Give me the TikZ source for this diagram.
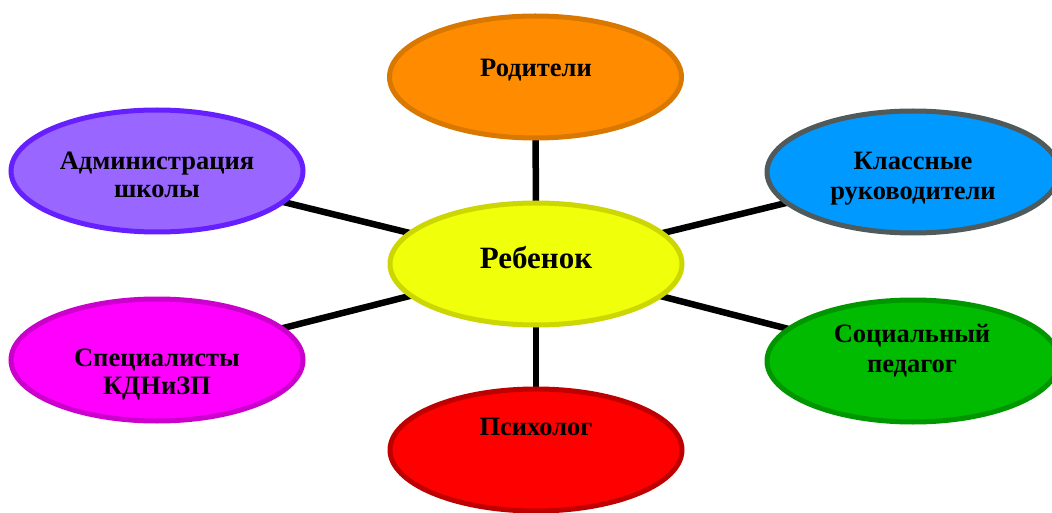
\documentclass[tikz,border=0pt]{standalone}
\usepackage{fontspec}
\setmainfont{Liberation Serif}
\usetikzlibrary{shapes.geometric,backgrounds}
\definecolor{orfill}{HTML}{FF8C00}\definecolor{ordraw}{HTML}{D97800}
\definecolor{pufill}{HTML}{9966FF}\definecolor{pudraw}{HTML}{661FFF}
\definecolor{blfill}{HTML}{0099FF}\definecolor{bldraw}{HTML}{505A5A}
\definecolor{yefill}{HTML}{F0FF0A}\definecolor{yedraw}{HTML}{CCD600}
\definecolor{mafill}{HTML}{FF00FF}\definecolor{madraw}{HTML}{CC00CC}
\definecolor{grfill}{HTML}{00BB00}\definecolor{grdraw}{HTML}{009600}
\definecolor{refill}{HTML}{FF0000}\definecolor{redraw}{HTML}{BF0000}
\tikzset{
  blob/.style={ellipse, line width=5pt, minimum width=292pt, minimum height=122pt, inner sep=0pt},
  lbl/.style={font=\bfseries\fontsize{26.5}{30}\selectfont, align=center, inner sep=0pt},
  link/.style={line width=6.5pt, black}
}
\begin{document}
\begin{tikzpicture}[x=1pt,y=-1pt]
\useasboundingbox (0,0) rectangle (1052,513);
\clip (0,0) rectangle (1052,513);
\node[blob, fill=orfill, draw=ordraw] (par) at (535.5,77) {};
\node[blob, fill=pufill, draw=pudraw] (adm) at (157,171) {};
\node[blob, fill=blfill, draw=bldraw] (cls) at (913,172) {};
\node[blob, fill=yefill, draw=yedraw] (chi) at (536,264) {};
\node[blob, fill=mafill, draw=madraw] (spe) at (157,360) {};
\node[blob, fill=grfill, draw=grdraw] (soc) at (913,361) {};
\node[blob, fill=refill, draw=redraw] (psy) at (536,450) {};
\begin{scope}[on background layer]
\draw[link] (chi.center) -- (par.center);
\draw[link] (chi.center) -- (adm.center);
\draw[link] (chi.center) -- (cls.center);
\draw[link] (chi.center) -- (spe.center);
\draw[link] (chi.center) -- (soc.center);
\draw[link] (chi.center) -- (psy.center);
\end{scope}
\node[lbl, anchor=base] (tpar) at (536,77) {Родители};
\node[lbl, font=\bfseries\fontsize{31}{35}\selectfont, anchor=base] (tchi) at (536,268) {Ребенок};
\node[lbl, anchor=base] (tpsy) at (536,435) {Психолог};
\node[lbl, anchor=base] (tadm1) at (157,170) {Администрация};
\node[lbl, anchor=base] (tadm2) at (157,198) {школы};
\node[lbl, anchor=base] (tcls1) at (913,170) {Классные};
\node[lbl, anchor=base] (tcls2) at (913,200) {руководители};
\node[lbl, anchor=base] (tspe1) at (157,366) {Специалисты};
\node[lbl, anchor=base] (tspe2) at (157,394) {КДНиЗП};
\node[lbl, anchor=base] (tsoc1) at (912,342) {Социальный};
\node[lbl, anchor=base] (tsoc2) at (912,372) {педагог};
\end{tikzpicture}
\end{document}
